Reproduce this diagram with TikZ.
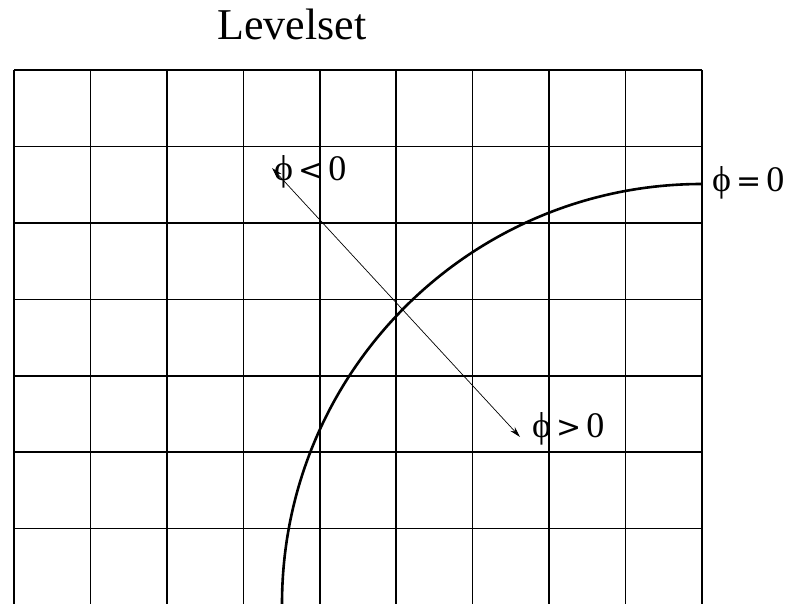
\documentclass[tikz,border=0pt]{standalone}
\usepackage{fontspec}
\setmainfont{Liberation Serif}
\newfontfamily\relfont{DejaVu Sans}
\newcommand\relsym[1]{\hspace{5pt}{\relfont\fontsize{30}{30}\selectfont #1}\hspace{5pt}}
\usetikzlibrary{arrows.meta}
\begin{document}
\begin{tikzpicture}[x=1pt,y=-1pt,
  gridline/.style={line width=1.6pt},
  levelcurve/.style={line width=2.6pt},
  normalarrow/.style={line width=0.7pt,{Stealth[length=11pt,width=6pt]}-{Stealth[length=11pt,width=6pt]}},
  lbl/.style={font=\fontsize{36}{36}\selectfont, inner sep=0pt},
  titlelbl/.style={font=\fontsize{44}{44}\selectfont, inner sep=0pt}]
\useasboundingbox (0,0) rectangle (793,604);
\foreach \i in {0,...,9} \draw[gridline] ({14+76.44*\i},70) -- ({14+76.44*\i},604);
\foreach \j in {0,...,6} \draw[gridline] (14,{70+76.44*\j}) -- (702,{70+76.44*\j});
\draw[levelcurve] (702,184) arc[start angle=90, end angle=180, radius=420pt];
\coordinate (tipA) at (272,168);
\coordinate (tipB) at (520,437);
\draw[normalarrow] (tipA) -- (tipB);
\node[titlelbl, anchor=base] (title) at (292,40) {Levelset};
\node[lbl, anchor=west] (neg) at (274,172) {ϕ\relsym{<}0};
\node[lbl, anchor=west] (pos) at (532,429) {ϕ\relsym{>}0};
\node[lbl, anchor=west] (zero) at (712,183) {ϕ\relsym{=}0};
\end{tikzpicture}
\end{document}
